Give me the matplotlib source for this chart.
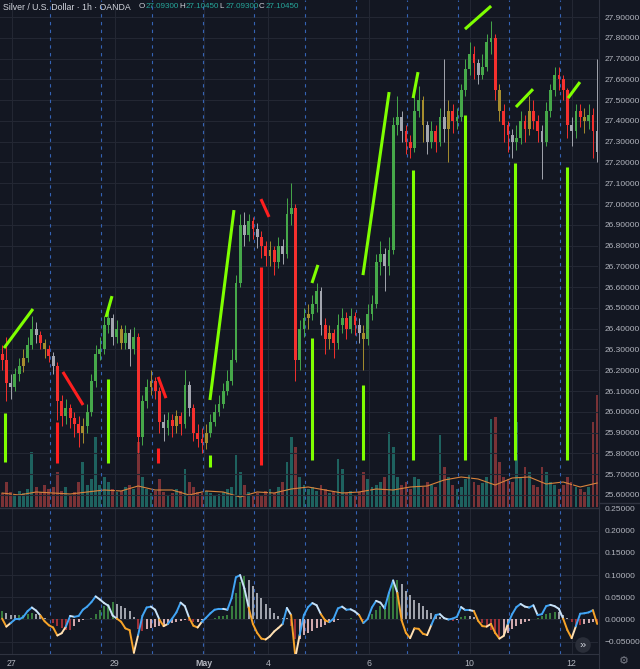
import matplotlib
matplotlib.use('Agg')
import matplotlib.pyplot as plt
import numpy as np
from matplotlib.collections import LineCollection
from matplotlib.lines import Line2D
from matplotlib.ticker import FuncFormatter

plt.rcParams['font.family'] = ['Liberation Sans', 'DejaVu Sans']

# ---------------- data (2-hour candles) ----------------
open0 = 26.28
closes = [26.25, 26.14, 26.12, 26.18, 26.22, 26.26, 26.32, 26.40, 26.37, 26.33,
          26.30, 26.27, 26.22, 26.05, 25.98, 26.02, 25.97, 25.94, 25.90, 25.93,
          26.00, 26.15, 26.28, 26.30, 26.42, 26.45, 26.36, 26.40, 26.33, 26.38,
          26.30, 26.36, 25.88, 26.05, 26.12, 26.15, 26.10, 25.95, 25.92, 25.96,
          25.93, 25.98, 25.94, 26.13, 26.02, 25.90, 25.87, 25.85, 25.90, 25.95,
          26.00, 26.04, 26.10, 26.15, 26.25, 26.62, 26.90, 26.85, 26.92, 26.88,
          26.84, 26.80, 26.75, 26.78, 26.72, 26.80, 26.76, 26.95, 26.98, 26.25,
          26.40, 26.45, 26.47, 26.52, 26.58, 26.42, 26.35, 26.38, 26.33, 26.42,
          26.45, 26.40, 26.46, 26.42, 26.38, 26.35, 26.47, 26.52, 26.72, 26.76,
          26.70, 26.78, 27.38, 27.42, 27.35, 27.30, 27.27, 27.45, 27.50, 27.38,
          27.30, 27.35, 27.30, 27.42, 27.36, 27.45, 27.40, 27.42, 27.55, 27.65,
          27.72, 27.68, 27.62, 27.66, 27.78, 27.80, 27.55, 27.45, 27.38, 27.33,
          27.30, 27.32, 27.40, 27.36, 27.45, 27.40, 27.35, 27.30, 27.45, 27.55,
          27.62, 27.60, 27.55, 27.38, 27.35, 27.45, 27.42, 27.40, 27.43, 27.35,
          27.25]
highs = [26.32, 26.36, 26.18, 26.21, 26.26, 26.30, 26.36, 26.46, 26.43, 26.39,
         26.35, 26.32, 26.29, 26.24, 26.08, 26.06, 26.04, 26.00, 25.98, 25.97,
         26.04, 26.18, 26.32, 26.36, 26.46, 26.50, 26.47, 26.44, 26.42, 26.42,
         26.40, 26.41, 26.38, 26.08, 26.16, 26.20, 26.17, 26.12, 25.99, 26.00,
         25.99, 26.01, 26.00, 26.20, 26.15, 26.04, 25.94, 25.92, 25.94, 25.99,
         26.04, 26.08, 26.14, 26.20, 26.30, 26.66, 26.95, 26.96, 26.95, 26.94,
         26.91, 26.87, 26.82, 26.82, 26.80, 26.84, 26.83, 27.03, 27.10, 27.00,
         26.44, 26.50, 26.52, 26.56, 26.62, 26.60, 26.45, 26.42, 26.40, 26.47,
         26.50, 26.48, 26.50, 26.48, 26.45, 26.42, 26.52, 26.56, 26.76, 26.82,
         26.79, 26.84, 27.42, 27.52, 27.45, 27.38, 27.33, 27.55, 27.57, 27.52,
         27.40, 27.40, 27.38, 27.46, 27.70, 27.50, 27.48, 27.46, 27.58, 27.70,
         27.78, 27.76, 27.70, 27.72, 27.82, 27.88, 27.82, 27.58, 27.48, 27.40,
         27.36, 27.38, 27.45, 27.43, 27.52, 27.50, 27.43, 27.38, 27.49, 27.58,
         27.66, 27.66, 27.62, 27.56, 27.42, 27.48, 27.48, 27.46, 27.48, 27.46,
         27.70]
lows = [26.20, 26.05, 26.06, 26.10, 26.15, 26.19, 26.24, 26.30, 26.33, 26.30,
        26.26, 26.24, 26.18, 25.96, 25.93, 25.94, 25.92, 25.88, 25.83, 25.85,
        25.90, 25.98, 26.12, 26.25, 26.28, 26.38, 26.32, 26.33, 26.30, 26.30,
        26.22, 26.28, 25.80, 25.84, 26.02, 26.08, 26.06, 25.90, 25.86, 25.89,
        25.88, 25.90, 25.89, 25.92, 25.98, 25.86, 25.83, 25.80, 25.82, 25.88,
        25.93, 25.98, 26.02, 26.08, 26.13, 26.24, 26.60, 26.80, 26.82, 26.83,
        26.79, 26.74, 26.70, 26.70, 26.66, 26.69, 26.71, 26.74, 26.90, 26.15,
        26.20, 26.36, 26.40, 26.44, 26.48, 26.37, 26.28, 26.30, 26.26, 26.30,
        26.38, 26.35, 26.38, 26.37, 26.33, 26.20, 26.32, 26.44, 26.50, 26.66,
        26.58, 26.66, 26.76, 27.33, 27.30, 27.24, 27.22, 27.25, 27.42, 27.30,
        27.24, 27.27, 27.25, 27.28, 27.30, 27.20, 27.34, 27.36, 27.40, 27.52,
        27.62, 27.60, 27.58, 27.60, 27.64, 27.72, 27.50, 27.40, 27.30, 27.25,
        27.22, 27.26, 27.29, 27.30, 27.33, 27.36, 27.30, 27.12, 27.28, 27.42,
        27.52, 27.55, 27.50, 27.32, 27.28, 27.32, 27.37, 27.34, 27.36, 27.22,
        27.20]
grey_idx = [2, 8, 12, 26, 30, 38, 44, 57, 60, 66, 75, 84, 90, 94, 100, 104, 112, 120, 127, 134, 140]
gold_idx = [5, 10, 19, 28, 35, 41, 48, 63, 72, 77, 85, 99, 105, 117, 124, 137]

volumes = [14, 25, 15, 12, 16, 14, 18, 55, 20, 15,
           22, 18, 20, 35, 16, 20, 12, 15, 25, 45,
           22, 28, 70, 22, 30, 25, 18, 15, 16, 20,
           22, 18, 65, 30, 18, 14, 16, 28, 15, 12,
           14, 18, 16, 38, 25, 20, 15, 14, 16, 14,
           12, 13, 15, 18, 20, 52, 35, 22, 15, 12,
           14, 12, 16, 18, 14, 20, 25, 45, 70, 60,
           30, 22, 18, 20, 16, 22, 18, 14, 15, 48,
           38, 14, 16, 12, 15, 35, 28, 20, 22, 25,
           30, 75, 60, 30, 22, 25, 18, 30, 28, 20,
           25, 22, 20, 72, 40, 30, 22, 18, 20, 28,
           32, 25, 22, 24, 30, 88, 90, 45, 30, 28,
           25, 85, 30, 40, 35, 22, 20, 40, 35, 25,
           22, 18, 22, 30, 25, 20, 18, 15, 20, 85,
           112]
vol_ma = [14, 12, 15, 14, 13, 15, 17, 16, 21, 17, 17, 12, 16, 15, 10, 15, 14, 18,
          20, 17, 14, 15, 18, 17, 20, 21, 27, 30, 28, 22, 29, 30, 23, 25, 20, 24]

osc_line = [0.002, -0.016, -0.008, 0.000, 0.000, 0.006, 0.019, 0.027, 0.020, 0.009,
            -0.004, -0.013, -0.018, -0.036, -0.031, -0.016, 0.008, 0.006, 0.008, 0.022,
            0.029, 0.039, 0.052, 0.045, 0.037, 0.031, 0.009, 0.002, -0.005, -0.020,
            -0.024, -0.075, -0.035, 0.008, 0.027, 0.029, 0.022, 0.000, -0.015, -0.010,
            0.002, 0.016, 0.038, 0.030, 0.004, -0.014, -0.018, -0.005, 0.004, 0.014,
            0.022, 0.024, 0.024, 0.022, 0.048, 0.095, 0.100, 0.070, 0.027, -0.010,
            -0.030, -0.043, -0.045, -0.038, -0.027, -0.019, -0.010, 0.026, 0.010, -0.085,
            -0.035, 0.010, 0.028, 0.037, 0.032, 0.012, -0.002, -0.006, 0.002, 0.025,
            0.029, 0.022, 0.023, 0.018, 0.010, -0.008, 0.001, 0.027, 0.042, 0.038,
            0.025, 0.060, 0.088, 0.060, -0.002, -0.030, -0.042, -0.020, -0.021, -0.032,
            -0.035, -0.012, 0.010, 0.012, 0.003, 0.000, 0.002, 0.006, 0.028, 0.021,
            0.021, 0.019, -0.003, -0.015, -0.016, -0.010, -0.030, -0.043, -0.037, -0.010,
            0.012, 0.028, 0.035, 0.029, 0.027, 0.032, 0.010, 0.012, 0.030, 0.033,
            0.030, 0.024, 0.002, -0.024, -0.042, -0.015, 0.013, 0.014, 0.016, 0.021,
            -0.010]
osc_hist = [0.020, 0.015, 0.011, 0.010, 0.010, 0.011, 0.013, 0.015, 0.012, 0.008,
            0.004, 0.000, -0.008, -0.015, -0.020, -0.023, -0.024, -0.015, -0.006, -0.002,
            0.000, 0.003, 0.012, 0.022, 0.030, 0.036, 0.040, 0.035, 0.030, 0.025,
            0.020, 0.005, -0.022, -0.025, -0.022, -0.019, -0.016, -0.014, -0.012, -0.010,
            -0.008, -0.006, -0.004, -0.002, -0.004, -0.006, -0.005, -0.002, 0.000, 0.001,
            0.004, 0.007, 0.009, 0.010, 0.030, 0.060, 0.085, 0.098, 0.090, 0.075,
            0.060, 0.048, 0.035, 0.025, 0.015, 0.008, 0.004, 0.003, -0.015, -0.045,
            -0.044, -0.036, -0.030, -0.025, -0.020, -0.016, -0.012, -0.008, -0.005, -0.002,
            0.000, 0.002, 0.003, 0.002, 0.001, -0.002, 0.002, 0.012, 0.022, 0.030,
            0.036, 0.060, 0.085, 0.090, 0.080, 0.065, 0.055, 0.045, 0.038, 0.030,
            0.022, 0.015, 0.010, 0.006, 0.002, -0.002, -0.004, -0.001, 0.006, 0.009,
            0.008, 0.006, 0.002, -0.008, -0.016, -0.024, -0.032, -0.040, -0.038, -0.030,
            -0.022, -0.015, -0.010, -0.006, -0.003, 0.000, 0.004, 0.008, 0.012, 0.015,
            0.017, 0.016, 0.010, 0.003, -0.006, -0.012, -0.012, -0.010, -0.008, -0.005,
            -0.008]

# hand-drawn annotations: (hour, price) pairs
green_trend = [((1.9, 26.307), (15.5, 26.495)), ((49.9, 26.456), (52.7, 26.557)),
               ((98.8, 26.057), (110.1, 26.971)), ((146.8, 26.620), (149.6, 26.707)),
               ((170.8, 26.658), (183.1, 27.539)), ((194.4, 27.510), (196.7, 27.635)),
               ((218.8, 27.842), (231.1, 27.953)), ((242.8, 27.467), (250.8, 27.553)),
               ((267.3, 27.510), (272.9, 27.587))]
red_trend = [((29.6, 26.192), (39.1, 26.033)), ((74.4, 26.168), (78.1, 26.066)),
             ((122.8, 27.024), (126.6, 26.938))]
green_vert_x = [2.4, 50.8, 98.8, 146.8, 170.8, 194.4, 218.8, 242.4, 266.8]
green_vert_top = [25.994, 26.158, 25.792, 26.355, 26.129, 27.164, 27.428, 27.197, 27.178]
green_vert_bot = [25.759, 25.754, 25.734, 25.768, 25.768, 25.768, 25.768, 25.768, 25.768]
red_vert_x = [26.8, 74.4, 122.8]
red_vert_top = [25.951, 25.826, 26.697]
red_vert_bot = [25.754, 25.754, 25.744]

day_ticks_h = [5.6, 54, 96, 126, 173.6, 221, 269]
day_labels = ['27', '29', 'May', '4', '6', '10', '12']
session_h = [23.5 + 24 * i for i in range(11)]
price_ticks = [round(25.6 + 0.1 * i, 2) for i in range(24)]
osc_ticks = [-0.05, 0.0, 0.05, 0.10, 0.15, 0.20, 0.25]

assert len(closes) == len(highs) == len(lows) == len(volumes) == len(osc_line) == len(osc_hist) == 141
assert len(vol_ma) == 36

# ---------------- styling ----------------
BG = '#131722'
GRID = '#232733'
SEP = '#2f3340'
TXT = '#b2b5be'
UP, DN, GREY, GOLD = '#46a84a', '#f5302e', '#a3a6af', '#a68d2e'
LIME, RED = '#7fff00', '#ff1f1f'
W, H = 640, 669


def fr(x0, y0, x1, y1):
    return [x0 / W, 1 - y1 / H, (x1 - x0) / W, (y1 - y0) / H]


fig = plt.figure(figsize=(6.4, 6.69), dpi=100, facecolor=BG)
ax = fig.add_axes(fr(0, 0, 598, 507))
osc = fig.add_axes(fr(0, 508, 598, 654), sharex=ax)
vol = ax.twinx()
vol.set_zorder(1)
ax.set_zorder(2)
osc.set_zorder(3)
ax.patch.set_visible(False)
vol.patch.set_facecolor(BG)
osc.set_facecolor(BG)

n = len(closes)
hx = 2 * np.arange(n) + 1.0
c = np.array(closes)
o = np.r_[open0, c[:-1]]
hi = np.array(highs)
lo = np.array(lows)
cols = [UP if c[i] >= o[i] else DN for i in range(n)]
for i in grey_idx:
    cols[i] = GREY
for i in gold_idx:
    cols[i] = GOLD

# grid
for a in (ax, osc):
    for t in day_ticks_h:
        a.axvline(t, color=GRID, lw=0.8, zorder=0)
    for s in session_h:
        a.axvline(s, color='#3563b5', lw=0.8, ls=(0, (3, 4)), zorder=0.5)
for p in price_ticks:
    ax.axhline(p, color=GRID, lw=0.8, zorder=0)
for t in osc_ticks:
    osc.axhline(t, color=GRID, lw=0.8, zorder=0)

# volume
vcols = ['#1e625f' if c[i] >= o[i] else '#7a3236' for i in range(n)]
vol.bar(hx, volumes, width=1.3, color=vcols, lw=0)
vol.plot(hx[::4], vol_ma, color='#d9843c', lw=0.8)
vol.set_ylim(0, 507)
vol.set_yticks([])
vol.tick_params(right=False, labelright=False)

# candles
ax.vlines(hx, lo, hi, colors=cols, lw=0.7, zorder=3)
ax.bar(hx, np.maximum(np.abs(c - o), 0.006), bottom=np.minimum(o, c), width=1.3,
       color=cols, lw=0, zorder=3)

# annotations
for (x0, p0), (x1, p1) in green_trend:
    ax.plot([x0, x1], [p0, p1], color=LIME, lw=2.2, solid_capstyle='butt', zorder=4)
for (x0, p0), (x1, p1) in red_trend:
    ax.plot([x0, x1], [p0, p1], color=RED, lw=2.2, solid_capstyle='butt', zorder=4)
ax.vlines(green_vert_x, green_vert_bot, green_vert_top, colors=LIME, lw=2.2, zorder=4)
ax.vlines(red_vert_x, red_vert_bot, red_vert_top, colors=RED, lw=2.2, zorder=4)

ax.set_xlim(0, 281.4)
ax.set_ylim(25.542, 27.982)

# oscillator histogram
hv = np.array(osc_hist)
hcols = []
for i in range(n):
    prev = hv[i - 1] if i > 0 else hv[i]
    if hv[i] >= 0:
        hcols.append('#3f8f45' if hv[i] >= prev else '#b9bcc4')
    else:
        hcols.append('#b8353b' if hv[i] <= prev else '#f2c4c6')
osc.bar(hx, hv, width=0.9, color=hcols, lw=0, alpha=0.85, zorder=2)

# oscillator line
lv = np.array(osc_line)
pts = np.column_stack([hx, lv])
segs = np.stack([pts[:-1], pts[1:]], axis=1)
lcols = []
for i in range(n - 1):
    rising = lv[i + 1] >= lv[i]
    if lv[i + 1] >= 0:
        lcols.append('#42a5f5' if rising else '#c9e2f7')
    else:
        lcols.append('#ffe0b2' if rising else '#f7a328')
osc.add_collection(LineCollection(segs, colors=lcols, linewidths=1.4, zorder=3,
                                  capstyle='round'))
osc.set_ylim(-0.0777, 0.2511)

# axes formatting
for a in (ax, osc, vol):
    for sp in a.spines.values():
        sp.set_visible(False)
ax.yaxis.tick_right()
ax.set_yticks(price_ticks)
ax.yaxis.set_major_formatter(FuncFormatter(lambda v, p: f'{v:.5f}'))
ax.tick_params(axis='y', length=0, pad=5, labelsize=6, labelcolor=TXT)
ax.tick_params(axis='x', length=0, labelbottom=False)

osc.yaxis.tick_right()
osc.set_yticks(osc_ticks)
osc.yaxis.set_major_formatter(FuncFormatter(lambda v, p: f'{v:.5f}'.replace('-', '\u2212')))
osc.tick_params(axis='y', length=0, pad=5, labelsize=6, labelcolor=TXT)
osc.set_xticks(day_ticks_h)
osc.set_xticklabels(day_labels)
osc.tick_params(axis='x', length=0, pad=3.6, labelsize=6.3, labelcolor=TXT)
for lbl in osc.get_xticklabels():
    if lbl.get_text() == 'May':
        lbl.set_fontweight('bold')

# separators (the price-scale part sits a little higher, above the 0.25 label)
fig.add_artist(Line2D([598.5 / W, 598.5 / W], [0, 1], color=SEP, lw=0.8, zorder=10))
fig.add_artist(Line2D([0, 598.5 / W], [1 - 507.5 / H, 1 - 507.5 / H], color=SEP, lw=1.0, zorder=10))
fig.add_artist(Line2D([598.5 / W, 1], [1 - 503.0 / H, 1 - 503.0 / H], color=SEP, lw=1.0, zorder=10))
fig.add_artist(Line2D([0, 598 / W], [1 - 654 / H, 1 - 654 / H], color=SEP, lw=0.8, zorder=10))

# header
fig.text(3 / W, 1 - 7 / H, 'Silver / U.S. Dollar \u00b7 1h \u00b7 OANDA', color='#d1d4dc',
         fontsize=6.3, va='center', ha='left', zorder=11)
for lx, letter, val in [(139, 'O', '27.09300'), (179, 'H', '27.10450'),
                        (219, 'L', '27.09300'), (259, 'C', '27.10450')]:
    fig.text(lx / W, 1 - 7 / H, letter, color='#d1d4dc', fontsize=5.8, va='center', ha='left',
             zorder=11)
    fig.text((lx + 6.5) / W, 1 - 7 / H, val, color='#26a69a', fontsize=5.8, va='center',
             ha='left', zorder=11)

# buttons
fig.text(583 / W, 1 - 645 / H, '\u00bb', color='#d1d4dc', fontsize=8, ha='center', va='center',
         bbox=dict(boxstyle='circle,pad=0.25', fc='#2a2e39', ec='none'), zorder=11)
fig.text(624 / W, 1 - 661 / H, '\u2699', color='#787b86', fontsize=8, ha='center', va='center',
         family=['DejaVu Sans'], zorder=11)

fig.savefig('out.png', dpi=100, facecolor=BG)
